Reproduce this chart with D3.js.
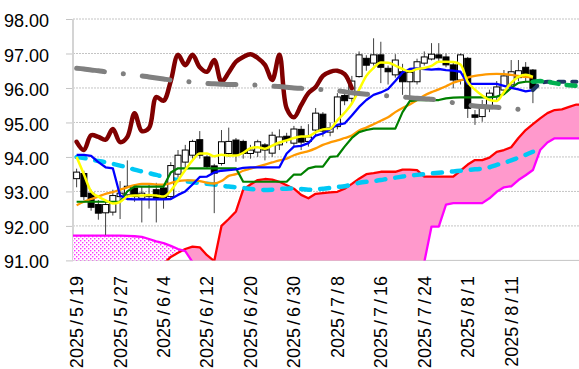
<!DOCTYPE html>
<html>
<head>
<meta charset="utf-8">
<script src="https://cdn.jsdelivr.net/npm/d3@7"></script>
<style>
  body { margin: 0; background: #fff; }
  svg { display: block; }
</style>
</head>
<body>
<svg id="chart" width="579" height="369"></svg>
<script>
// trading days shown (future cloud slots have no date)
var dates = [
  "2025/5/19","2025/5/20","2025/5/21","2025/5/22","2025/5/23","2025/5/26","2025/5/27","2025/5/28","2025/5/29","2025/5/30",
  "2025/6/2","2025/6/3","2025/6/4","2025/6/5","2025/6/6","2025/6/9","2025/6/10","2025/6/11","2025/6/12","2025/6/13",
  "2025/6/16","2025/6/17","2025/6/18","2025/6/19","2025/6/20","2025/6/23","2025/6/24","2025/6/25","2025/6/26","2025/6/27",
  "2025/6/30","2025/7/1","2025/7/2","2025/7/3","2025/7/4","2025/7/7","2025/7/8","2025/7/9","2025/7/10","2025/7/11",
  "2025/7/14","2025/7/15","2025/7/16","2025/7/17","2025/7/18","2025/7/21","2025/7/22","2025/7/23","2025/7/24","2025/7/25",
  "2025/7/28","2025/7/29","2025/7/30","2025/7/31","2025/8/1","2025/8/4","2025/8/5","2025/8/6","2025/8/7","2025/8/8",
  "2025/8/11","2025/8/12","2025/8/13","2025/8/14"
];
var nSlots = 70;          // 64 days + 6 future slots for the cloud
var labelEvery = 6;
var yTicks = [91, 92, 93, 94, 95, 96, 97, 98];

// candles
var opens = [
  93.37,93.52,92.95,92.62,92.38,92.40,92.85,92.90,93.10,92.80,
  92.85,93.05,93.10,92.85,93.50,93.85,94.05,94.50,94.00,93.74,
  93.81,94.10,94.49,94.45,94.10,94.14,94.35,94.11,94.35,94.60,
  94.40,94.80,94.45,94.78,95.24,94.72,94.88,95.78,95.70,96.33,
  96.86,96.72,96.96,96.57,96.38,96.47,96.18,96.18,96.72,96.84,
  96.96,96.90,96.67,96.23,96.86,95.22,95.17,95.40,95.75,95.94,
  96.09,96.30,96.60,96.52];
var highs = [
  93.66,93.60,93.05,92.75,92.75,93.05,93.30,93.90,93.20,93.15,
  93.20,93.25,93.15,93.85,94.20,94.35,94.50,94.75,94.05,93.80,
  94.78,94.85,94.55,94.50,94.35,94.50,94.40,94.73,94.80,94.70,
  94.90,94.90,94.95,95.42,95.30,95.00,95.85,95.85,96.35,97.06,
  96.95,97.44,97.34,96.65,96.98,96.70,96.55,96.85,97.06,97.30,
  97.30,97.00,96.75,97.00,96.90,95.36,95.65,95.95,96.20,96.52,
  96.81,96.81,96.75,96.55];
var lows = [
  93.12,92.75,92.44,92.18,91.74,92.30,92.20,92.75,92.70,92.10,
  92.50,92.10,92.50,92.75,93.40,93.70,93.95,93.95,93.65,92.37,
  93.75,94.00,93.86,93.95,93.95,94.00,93.90,94.00,94.20,94.40,
  94.30,94.20,94.30,94.60,94.59,94.60,94.80,95.50,95.55,96.30,
  96.50,96.65,96.14,96.10,96.30,95.80,95.60,96.10,96.65,96.80,
  96.75,96.60,95.99,96.10,95.13,94.93,95.02,95.30,95.60,95.85,
  96.00,96.20,96.20,95.56];
var closes = [
  93.56,92.85,92.54,92.37,92.62,92.88,92.95,93.15,92.85,92.95,
  92.90,92.80,92.80,93.75,94.05,94.20,94.45,94.05,93.72,93.53,
  94.44,94.45,94.06,94.10,94.20,94.44,94.20,94.63,94.58,94.50,
  94.81,94.43,94.58,95.27,94.75,94.84,95.74,95.63,96.20,96.96,
  96.66,96.96,96.60,96.47,96.81,96.18,96.45,96.76,96.90,96.98,
  96.87,96.67,96.23,96.96,95.41,95.15,95.50,95.85,96.03,96.35,
  96.47,96.50,96.40,95.99];
var lagShift = 25;   // lagging span is the close drawn 25 slots back

// moving averages and conversion / base lines
var ma5 = [
  94.00,93.50,93.00,92.85,92.74,92.65,92.70,92.85,92.88,92.88,
  92.90,92.88,92.85,93.02,93.32,93.62,93.90,94.10,94.10,94.02,
  94.06,94.04,94.04,94.12,94.25,94.28,94.24,94.33,94.42,94.48,
  94.55,94.59,94.60,94.72,94.80,94.82,95.06,95.28,95.55,95.95,
  96.35,96.58,96.74,96.73,96.65,96.55,96.48,96.55,96.58,96.64,
  96.76,96.76,96.75,96.68,96.18,95.95,95.78,95.65,95.62,95.88,
  96.15,96.32,96.38,96.32];
var tenkan = [
  94.06,94.06,94.03,93.85,93.70,93.67,92.88,92.78,92.77,92.77,
  92.77,92.77,92.77,92.78,92.90,93.00,93.20,93.42,93.43,93.55,
  93.60,93.62,93.64,93.68,93.70,93.70,93.70,93.70,93.70,94.10,
  94.30,94.32,94.40,94.62,94.68,94.80,94.93,94.97,95.20,95.45,
  95.65,95.80,95.87,95.97,96.20,96.45,96.55,96.57,96.55,96.53,
  96.55,96.52,96.50,96.47,96.12,96.12,96.12,96.12,96.12,96.06,
  96.00,95.96,95.90,95.94];
var kijun = [
  92.70,92.70,92.70,92.70,92.70,92.70,92.70,93.00,93.14,93.14,
  93.14,93.14,93.14,93.55,93.67,93.67,93.67,93.67,93.67,93.67,
  93.67,93.67,93.67,93.28,93.28,93.28,93.28,93.28,93.28,93.28,
  93.49,93.49,93.67,93.72,93.72,94.00,94.02,94.30,94.55,94.72,
  94.78,94.82,94.82,94.82,94.82,95.30,95.62,95.65,95.65,95.65,
  95.65,95.70,95.72,95.73,95.73,95.73,95.73,95.73,95.75,95.82,
  96.00,96.15,96.18,96.18];
var ma25 = [
  92.60,92.70,92.78,92.85,92.93,92.98,93.05,93.12,93.18,93.22,
  93.22,93.20,93.20,93.24,93.30,93.32,93.32,93.30,93.25,93.23,
  93.30,93.45,93.50,93.60,93.66,93.72,93.78,93.84,93.90,93.95,
  94.05,94.12,94.17,94.25,94.35,94.42,94.48,94.55,94.62,94.77,
  94.85,94.95,95.05,95.15,95.30,95.42,95.52,95.65,95.78,95.88,
  95.96,96.05,96.15,96.22,96.30,96.35,96.38,96.40,96.41,96.40,
  96.38,96.35,96.32,96.30];
var ma75 = [
  94.00,93.97,93.93,93.88,93.85,93.80,93.75,93.70,93.63,93.58,
  93.53,93.48,93.42,93.37,93.33,93.30,93.27,93.24,93.22,93.20,
  93.17,93.14,93.12,93.10,93.07,93.05,93.04,93.05,93.07,93.08,
  93.09,93.07,93.05,93.06,93.08,93.10,93.13,93.15,93.20,93.25,
  93.28,93.30,93.33,93.37,93.40,93.43,93.46,93.48,93.50,93.52,
  93.54,93.56,93.58,93.60,93.62,93.64,93.66,93.70,93.77,93.83,
  93.90,93.98,94.06,94.15];
var ma200 = [
  96.57,96.55,96.52,96.50,96.47,96.45,96.42,96.40,96.37,96.35,
  96.32,96.29,96.26,96.23,96.21,96.19,96.17,96.15,96.13,96.12,
  96.11,96.10,96.10,96.09,96.09,96.08,96.06,96.05,96.04,96.02,
  96.00,95.99,95.97,95.96,95.95,95.94,95.92,95.89,95.86,95.84,
  95.82,95.80,95.78,95.77,95.75,95.74,95.72,95.70,95.69,95.67,
  95.65,95.62,95.57,95.52,95.50,95.48,95.46,95.45,95.44,95.42,
  95.41,95.38,95.35,95.33];

// leading spans (already shifted forward), 70 slots
var spanA = [
  89.90,89.95,90.00,90.05,90.10,90.20,90.30,90.40,90.50,90.60,
  90.70,90.80,90.90,91.10,91.22,91.33,91.40,91.38,91.15,90.98,
  92.00,92.20,92.42,93.05,93.20,93.33,93.36,93.34,93.28,93.18,
  93.08,92.90,92.80,92.93,92.95,92.97,92.99,93.08,93.22,93.37,
  93.50,93.53,93.57,93.57,93.57,93.63,93.63,93.62,93.43,93.43,
  93.43,93.43,93.43,93.60,93.78,93.91,93.91,93.98,94.15,94.20,
  94.28,94.55,94.78,94.95,95.12,95.27,95.36,95.38,95.45,95.52];
var spanB = [
  91.72,91.72,91.72,91.72,91.72,91.72,91.72,91.71,91.70,91.68,
  91.62,91.55,91.50,91.42,91.33,91.27,90.95,90.70,90.60,90.50,
  90.40,90.40,90.40,90.40,90.40,90.40,90.40,90.40,90.40,90.40,
  90.30,90.30,90.30,90.30,90.30,90.30,90.30,90.30,90.30,90.30,
  90.20,90.20,90.20,90.20,90.20,90.20,90.20,90.20,90.95,91.98,
  91.98,92.62,92.66,92.66,92.66,92.66,92.66,92.80,92.99,93.12,
  93.15,93.33,93.47,93.62,94.20,94.42,94.54,94.54,94.54,94.54];

// dashed projections of the conversion / base lines, slots 63..69
var projStart = 63;
var tenkanProj = [95.94,96.12,96.18,96.18,96.18,96.18,96.18];
var kijunProj = [96.18,96.20,96.18,96.14,96.10,96.08,96.06];

// ---------- layout ----------
var svg = d3.select("#chart");
var plot = { left: 73, right: 580, top: 19, bottom: 260.4 };
var fontFam = "'Liberation Sans', Arial, sans-serif";

var x = d3.scaleBand().domain(d3.range(nSlots)).range([plot.left, plot.right]);
function cx(i) { return x(i) + x.bandwidth() / 2; }
var y = d3.scaleLinear().domain([91, 98]).range([plot.bottom, plot.top]);

var defs = svg.append("defs");
defs.append("clipPath").attr("id", "plotClip")
    .append("rect")
    .attr("x", plot.left).attr("y", plot.top)
    .attr("width", plot.right - plot.left).attr("height", plot.bottom - plot.top);

// dotted fill for the bearish cloud
var pat = defs.append("pattern").attr("id", "dots")
    .attr("patternUnits", "userSpaceOnUse")
    .attr("width", 4).attr("height", 4);
pat.append("rect").attr("width", 4).attr("height", 4).attr("fill", "#fff");
pat.append("rect").attr("x", 0).attr("y", 0).attr("width", 1.4).attr("height", 1.4).attr("fill", "#ff33ff");
pat.append("rect").attr("x", 2).attr("y", 2).attr("width", 1.4).attr("height", 1.4).attr("fill", "#ff33ff");

// gridlines
svg.append("g").selectAll("line")
    .data(yTicks)
    .join("line")
    .attr("x1", plot.left).attr("x2", plot.right)
    .attr("y1", function (d) { return y(d); })
    .attr("y2", function (d) { return y(d); })
    .attr("stroke", "#c4c4c4")
    .attr("stroke-width", 1)
    .attr("stroke-dasharray", function (d) { return d === 91 ? null : "2,1"; });

// y axis
svg.append("g")
    .attr("transform", "translate(" + plot.left + ",0)")
    .call(d3.axisLeft(y).tickValues(yTicks).tickFormat(d3.format(".2f")).tickSize(7).tickPadding(17))
    .attr("font-size", 18)
    .attr("font-family", fontFam)
    .call(function (g) { g.select(".domain").remove(); })
    .call(function (g) { g.selectAll(".tick line").attr("stroke", "#c4c4c4"); })
    .call(function (g) { g.selectAll(".tick text").attr("fill", "#000").attr("dy", "0.42em"); });

svg.append("line")
    .attr("x1", plot.left).attr("x2", plot.left)
    .attr("y1", plot.top).attr("y2", plot.bottom)
    .attr("stroke", "#d4d4d4").attr("stroke-width", 2);

// x labels, rotated
var tickIdx = d3.range(0, dates.length, labelEvery);
var xl = svg.append("g").attr("font-size", 18).attr("font-family", fontFam).attr("fill", "#000");
xl.selectAll("text")
    .data(tickIdx)
    .join("text")
    .attr("text-anchor", "end")
    .attr("transform", function (i) { return "translate(" + (cx(i) + 6.5) + ",276) rotate(-90)"; })
    .each(function (i) {
        var parts = dates[i].split("/");
        var t = d3.select(this);
        parts.forEach(function (p, k) {
            if (k > 0) t.append("tspan").attr("dx", 3).text("/");
            t.append("tspan").attr("dx", k > 0 ? 3 : 0).text(p);
        });
    });

// ---------- plot content ----------
var body = svg.append("g").attr("clip-path", "url(#plotClip)");

// cloud: pad out to the plot edges
var cloud = d3.range(nSlots).map(function (i) { return { px: cx(i), a: spanA[i], b: spanB[i] }; });
cloud.unshift({ px: plot.left, a: spanA[0], b: spanB[0] });
cloud.push({ px: plot.right, a: spanA[nSlots - 1], b: spanB[nSlots - 1] });

var aboveB = d3.area().x(function (d) { return d.px; }).y0(0).y1(function (d) { return y(d.b); });
var belowB = d3.area().x(function (d) { return d.px; }).y0(function (d) { return y(d.b); }).y1(400);
defs.append("clipPath").attr("id", "clipAbove").append("path").attr("d", aboveB(cloud));
defs.append("clipPath").attr("id", "clipBelow").append("path").attr("d", belowB(cloud));

var between = d3.area().x(function (d) { return d.px; })
    .y0(function (d) { return y(d.a); })
    .y1(function (d) { return y(d.b); });

body.append("path").attr("d", between(cloud)).attr("fill", "#ff99cc").attr("clip-path", "url(#clipAbove)");
body.append("path").attr("d", between(cloud)).attr("fill", "url(#dots)").attr("clip-path", "url(#clipBelow)");

var lineAB = function (key) {
    return d3.line().x(function (d) { return d.px; }).y(function (d) { return y(d[key]); });
};
body.append("path").attr("d", lineAB("a")(cloud.slice(1)))
    .attr("fill", "none").attr("stroke", "#ff0000").attr("stroke-width", 2.3).attr("stroke-linejoin", "round");
body.append("path").attr("d", lineAB("b")(cloud))
    .attr("fill", "none").attr("stroke", "#ff00ff").attr("stroke-width", 2.3).attr("stroke-linejoin", "round");

function pts(arr, start) {
    return arr.map(function (v, k) { return { i: k + (start || 0), v: v }; });
}
function drawLine(data, color, width, curve, dash, cap) {
    var gen = d3.line().x(function (d) { return cx(d.i); }).y(function (d) { return y(d.v); });
    if (curve) gen.curve(curve);
    body.append("path")
        .attr("d", gen(data))
        .attr("fill", "none")
        .attr("stroke", color)
        .attr("stroke-width", width)
        .attr("stroke-linejoin", "round")
        .attr("stroke-linecap", cap || "butt")
        .attr("stroke-dasharray", dash || null);
}

// long MA, dashed light blue
drawLine(pts(ma75), "#00c8f5", 4.5, d3.curveMonotoneX, "9,10", "round");

// candles
var candles = d3.range(opens.length).map(function (i) {
    return { i: i, o: opens[i], h: highs[i], l: lows[i], c: closes[i] };
});
var cw = 6;
body.append("g").selectAll("line")
    .data(candles)
    .join("line")
    .attr("x1", function (d) { return cx(d.i); })
    .attr("x2", function (d) { return cx(d.i); })
    .attr("y1", function (d) { return y(d.h); })
    .attr("y2", function (d) { return y(d.l); })
    .attr("stroke", "#404040").attr("stroke-width", 1);
body.append("g").selectAll("rect")
    .data(candles)
    .join("rect")
    .attr("x", function (d) { return cx(d.i) - cw / 2; })
    .attr("y", function (d) { return y(Math.max(d.o, d.c)); })
    .attr("width", cw)
    .attr("height", function (d) { return Math.max(1, Math.abs(y(d.o) - y(d.c))); })
    .attr("fill", function (d) { return d.c >= d.o ? "#fff" : "#000"; })
    .attr("stroke", "#000").attr("stroke-width", 1);

// lagging span
var lag = closes.slice(lagShift).map(function (v, k) { return { i: k, v: v }; });
drawLine(lag, "#800000", 4.5, d3.curveCatmullRom.alpha(0.5), null, "round");

drawLine(pts(ma25), "#ff9900", 2.3, d3.curveMonotoneX);
drawLine(pts(kijun), "#008000", 2.2);
drawLine(pts(tenkan), "#0000ff", 2.3);
drawLine(pts(ma5), "#ffff00", 2.5, d3.curveMonotoneX);

// projections
drawLine(pts(tenkanProj, projStart), "#1f3864", 4, d3.curveMonotoneX, "6,8", "round");
drawLine(pts(kijunProj, projStart), "#00b050", 4.5, null, "9,8", "round");

// long trend, gray dash-dot
drawLine(pts(ma200), "#808080", 5, d3.curveMonotoneX, "28,19,0.1,19", "round");
</script>
</body>
</html>
